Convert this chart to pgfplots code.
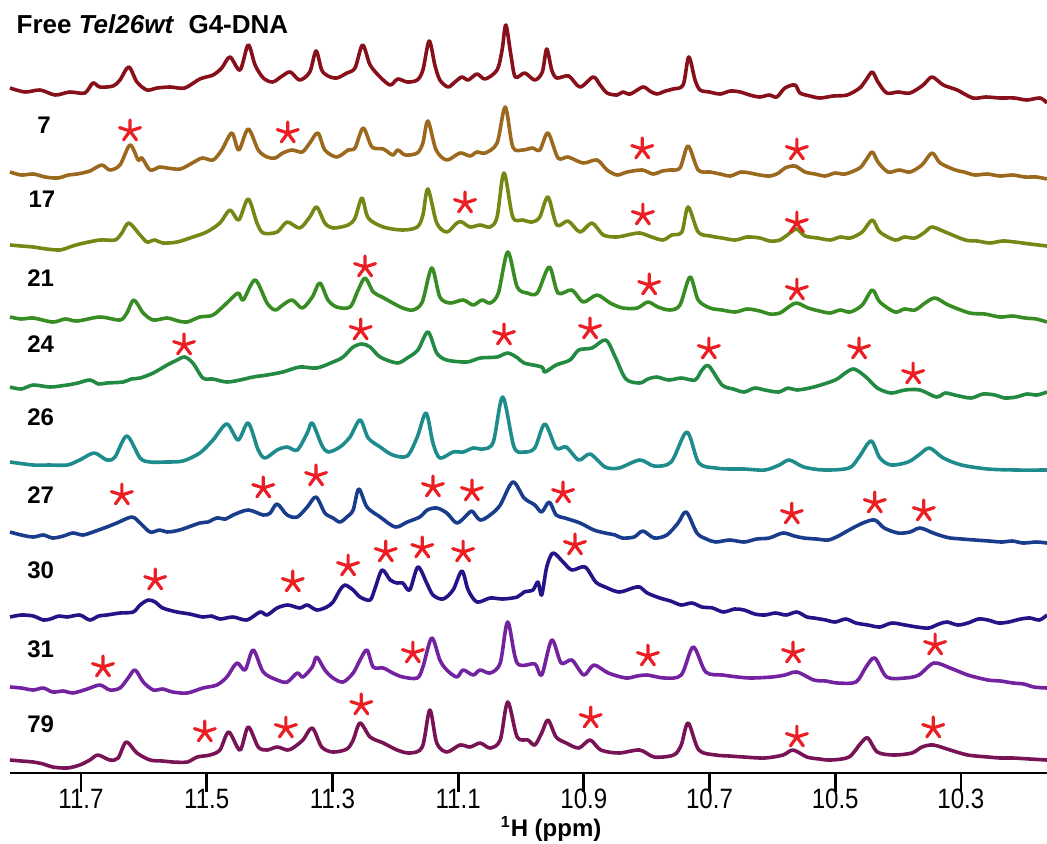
\documentclass[border=0pt]{standalone}
\usepackage{pgfplots}
\pgfplotsset{compat=1.18}
\usepackage{fontspec}
\setmainfont{Liberation Sans}
\definecolor{cF}{RGB}{135,16,26}
\definecolor{cA}{RGB}{155,105,30}
\definecolor{cB}{RGB}{118,135,22}
\definecolor{cC}{RGB}{55,140,35}
\definecolor{cD}{RGB}{35,138,65}
\definecolor{cE}{RGB}{30,140,140}
\definecolor{cG}{RGB}{25,60,140}
\definecolor{cH}{RGB}{35,20,135}
\definecolor{cI}{RGB}{115,35,160}
\definecolor{cJ}{RGB}{120,20,85}
\definecolor{cS}{RGB}{235,30,35}
\pgfdeclareplotmark{ast}{%
  \pgfpathmoveto{\pgfqpoint{0pt}{0pt}}\pgfpathlineto{\pgfqpointpolar{90}{\pgfplotmarksize}}%
  \pgfpathmoveto{\pgfqpoint{0pt}{0pt}}\pgfpathlineto{\pgfqpointpolar{162}{\pgfplotmarksize}}%
  \pgfpathmoveto{\pgfqpoint{0pt}{0pt}}\pgfpathlineto{\pgfqpointpolar{234}{\pgfplotmarksize}}%
  \pgfpathmoveto{\pgfqpoint{0pt}{0pt}}\pgfpathlineto{\pgfqpointpolar{306}{\pgfplotmarksize}}%
  \pgfpathmoveto{\pgfqpoint{0pt}{0pt}}\pgfpathlineto{\pgfqpointpolar{18}{\pgfplotmarksize}}%
  \pgfusepathqstroke}
\begin{document}
\begin{tikzpicture}
\begin{axis}[
  scale only axis, width=518.5pt, height=386.5pt,
  xmin=10.163, xmax=11.813, ymin=0, ymax=773,
  x dir=reverse, clip=false,
  axis x line=bottom, axis y line=none,
  axis line style={-, line width=1.4pt, black},
  xtick={10.3,10.5,10.7,10.9,11.1,11.3,11.5,11.7},
  tick align=outside, major tick length=9.5pt,
  tick style={line width=1.4pt, black},
  /pgf/number format/assume math mode=true,
  xticklabel={\scalebox{0.86}[1]{\pgfmathprintnumber[fixed,fixed zerofill,precision=1]{\tick}}},
  xticklabel style={font=\fontsize{14}{16}\selectfont, inner sep=0pt, yshift=1.5pt},
  spec/.style={line width=1.8pt, line join=round, smooth, tension=0.5},
]
% Free
\addplot[cF, spec] coordinates {(11.813,685)(11.789,681)(11.765,683)(11.741,678)(11.718,681)(11.694,680)(11.681,690)(11.670,686)(11.649,687)(11.638,693)(11.624,706)(11.611,691)(11.595,683)(11.579,685)(11.558,686)(11.535,685)(11.511,694)(11.490,698)(11.476,705)(11.463,716)(11.447,703)(11.434,728)(11.423,708)(11.410,695)(11.395,691)(11.380,697)(11.367,701)(11.352,693)(11.336,701)(11.326,722)(11.317,703)(11.307,697)(11.293,695)(11.277,700)(11.264,705)(11.252,728)(11.240,708)(11.224,696)(11.208,688)(11.196,694)(11.181,691)(11.165,693)(11.156,703)(11.146,732)(11.137,708)(11.129,693)(11.116,686)(11.105,691)(11.094,696)(11.084,693)(11.070,699)(11.057,694)(11.038,703)(11.030,723)(11.024,748)(11.016,718)(11.009,696)(10.994,700)(10.978,693)(10.966,701)(10.959,724)(10.951,703)(10.943,695)(10.924,697)(10.906,686)(10.885,696)(10.874,688)(10.863,680)(10.847,678)(10.838,681)(10.826,679)(10.806,686)(10.795,682)(10.784,679)(10.770,682)(10.758,684)(10.742,688)(10.733,716)(10.723,693)(10.715,683)(10.700,681)(10.683,679)(10.667,682)(10.651,681)(10.636,678)(10.620,676)(10.605,678)(10.593,676)(10.580,685)(10.564,688)(10.556,680)(10.540,677)(10.524,675)(10.503,677)(10.481,678)(10.461,685)(10.451,693)(10.441,701)(10.432,691)(10.418,680)(10.400,681)(10.381,680)(10.360,688)(10.346,696)(10.328,688)(10.306,683)(10.281,675)(10.260,676)(10.238,675)(10.215,675)(10.195,673)(10.174,675)(10.163,670)};
% 7
\addplot[cA, spec] coordinates {(11.813,601)(11.795,598)(11.776,599)(11.757,596)(11.737,595)(11.720,598)(11.706,599)(11.686,602)(11.667,608)(11.654,603)(11.638,608)(11.622,628)(11.609,613)(11.603,615)(11.590,603)(11.575,606)(11.563,605)(11.542,604)(11.523,610)(11.507,615)(11.490,613)(11.476,623)(11.460,640)(11.449,623)(11.434,644)(11.418,623)(11.404,616)(11.391,615)(11.379,620)(11.364,623)(11.348,621)(11.336,630)(11.323,640)(11.312,623)(11.293,616)(11.275,623)(11.264,625)(11.251,645)(11.237,626)(11.219,624)(11.204,618)(11.196,623)(11.184,618)(11.165,620)(11.156,630)(11.148,652)(11.135,623)(11.118,613)(11.097,620)(11.081,617)(11.070,621)(11.057,620)(11.038,630)(11.025,666)(11.013,626)(10.997,623)(10.982,625)(10.970,623)(10.957,640)(10.941,615)(10.925,616)(10.901,610)(10.879,613)(10.863,603)(10.847,598)(10.831,601)(10.807,603)(10.790,599)(10.775,602)(10.763,603)(10.747,605)(10.734,627)(10.718,603)(10.699,601)(10.683,599)(10.667,597)(10.650,601)(10.636,600)(10.620,598)(10.604,597)(10.590,600)(10.580,605)(10.564,607)(10.548,601)(10.532,599)(10.516,597)(10.500,600)(10.484,599)(10.461,605)(10.451,613)(10.441,621)(10.432,611)(10.416,601)(10.398,603)(10.381,601)(10.362,608)(10.346,620)(10.333,610)(10.309,603)(10.295,601)(10.278,598)(10.258,599)(10.238,597)(10.218,598)(10.198,596)(10.180,596)(10.163,594)};
% 17
\addplot[cB, spec] coordinates {(11.813,528)(11.795,527)(11.776,526)(11.755,524)(11.733,523)(11.718,526)(11.702,529)(11.670,533)(11.646,533)(11.635,540)(11.624,550)(11.606,538)(11.595,531)(11.583,533)(11.570,530)(11.547,531)(11.522,536)(11.500,541)(11.479,550)(11.463,563)(11.449,553)(11.434,574)(11.420,550)(11.410,540)(11.388,541)(11.372,551)(11.352,545)(11.336,556)(11.325,566)(11.312,550)(11.299,545)(11.275,548)(11.264,555)(11.253,575)(11.243,555)(11.219,546)(11.188,543)(11.165,546)(11.156,558)(11.148,584)(11.134,550)(11.118,541)(11.102,550)(11.094,551)(11.081,546)(11.065,548)(11.049,546)(11.038,556)(11.027,600)(11.013,556)(10.997,553)(10.982,551)(10.970,556)(10.957,576)(10.943,548)(10.925,552)(10.906,541)(10.887,550)(10.869,538)(10.847,536)(10.831,538)(10.811,540)(10.792,536)(10.774,533)(10.760,538)(10.744,541)(10.734,566)(10.718,541)(10.699,537)(10.680,535)(10.659,533)(10.640,536)(10.620,535)(10.604,532)(10.588,533)(10.572,540)(10.561,544)(10.548,537)(10.528,535)(10.508,533)(10.492,536)(10.476,535)(10.457,541)(10.441,553)(10.429,541)(10.405,533)(10.390,536)(10.373,535)(10.357,541)(10.346,546)(10.325,541)(10.293,533)(10.274,532)(10.254,530)(10.234,532)(10.214,531)(10.190,529)(10.163,527)};
% 21
\addplot[cC, spec] coordinates {(11.813,456)(11.795,454)(11.776,455)(11.745,451)(11.725,454)(11.706,452)(11.670,456)(11.638,453)(11.627,460)(11.616,473)(11.601,460)(11.585,453)(11.563,455)(11.545,452)(11.531,451)(11.511,456)(11.490,458)(11.468,470)(11.450,480)(11.442,473)(11.423,493)(11.404,470)(11.391,463)(11.379,468)(11.364,473)(11.348,465)(11.332,476)(11.320,490)(11.307,473)(11.293,466)(11.272,466)(11.259,483)(11.248,495)(11.235,481)(11.221,476)(11.204,470)(11.188,465)(11.172,463)(11.157,471)(11.142,505)(11.129,476)(11.113,470)(11.092,473)(11.076,468)(11.062,473)(11.049,470)(11.036,480)(11.021,521)(11.006,486)(10.990,480)(10.974,480)(10.955,506)(10.941,480)(10.919,483)(10.901,471)(10.879,478)(10.858,470)(10.838,465)(10.815,465)(10.798,471)(10.782,466)(10.763,463)(10.747,468)(10.731,496)(10.718,473)(10.699,465)(10.680,463)(10.659,461)(10.640,464)(10.620,462)(10.604,459)(10.588,460)(10.572,467)(10.561,470)(10.543,465)(10.525,462)(10.508,460)(10.492,463)(10.476,461)(10.457,468)(10.441,483)(10.429,471)(10.405,461)(10.390,464)(10.373,463)(10.357,470)(10.341,475)(10.320,468)(10.286,460)(10.262,459)(10.238,456)(10.218,457)(10.198,455)(10.180,454)(10.163,451)};
% 24
\addplot[cD, spec] coordinates {(11.813,386)(11.795,384)(11.776,388)(11.749,386)(11.722,388)(11.705,390)(11.686,393)(11.672,389)(11.659,390)(11.633,391)(11.620,394)(11.606,395)(11.585,400)(11.563,408)(11.547,413)(11.535,416)(11.522,410)(11.506,395)(11.490,394)(11.468,391)(11.447,393)(11.426,396)(11.404,398)(11.379,401)(11.352,406)(11.325,405)(11.299,411)(11.283,416)(11.267,426)(11.253,429)(11.240,426)(11.224,416)(11.197,410)(11.181,415)(11.164,423)(11.148,441)(11.134,420)(11.118,413)(11.086,411)(11.065,415)(11.038,416)(11.021,420)(11.005,415)(10.995,410)(10.967,406)(10.962,401)(10.944,408)(10.922,413)(10.908,423)(10.887,425)(10.865,433)(10.850,416)(10.833,394)(10.811,390)(10.798,394)(10.784,396)(10.765,393)(10.745,395)(10.723,393)(10.712,403)(10.701,407)(10.680,388)(10.662,384)(10.645,381)(10.628,385)(10.612,383)(10.590,381)(10.575,385)(10.561,383)(10.534,386)(10.500,393)(10.484,400)(10.470,404)(10.451,396)(10.433,385)(10.411,380)(10.389,383)(10.365,383)(10.339,376)(10.325,380)(10.310,378)(10.284,375)(10.265,379)(10.246,378)(10.230,375)(10.212,376)(10.195,379)(10.179,378)(10.163,381)};
% 26
\addplot[cE, spec] coordinates {(11.813,311)(11.776,308)(11.750,308)(11.722,308)(11.702,313)(11.679,320)(11.659,313)(11.646,316)(11.627,337)(11.606,315)(11.590,311)(11.565,311)(11.538,312)(11.511,320)(11.490,333)(11.468,349)(11.450,333)(11.434,350)(11.418,323)(11.407,315)(11.388,323)(11.372,326)(11.356,323)(11.340,340)(11.332,350)(11.317,328)(11.307,321)(11.288,326)(11.272,336)(11.256,353)(11.243,335)(11.224,326)(11.204,318)(11.181,317)(11.165,336)(11.151,360)(11.140,330)(11.129,315)(11.108,321)(11.092,321)(11.076,325)(11.060,324)(11.044,331)(11.029,376)(11.011,326)(10.995,321)(10.978,325)(10.962,349)(10.944,325)(10.928,326)(10.908,313)(10.890,319)(10.866,306)(10.844,305)(10.811,313)(10.788,307)(10.761,311)(10.736,341)(10.717,310)(10.690,305)(10.668,304)(10.645,304)(10.612,303)(10.589,308)(10.573,313)(10.550,306)(10.518,303)(10.478,305)(10.462,316)(10.443,332)(10.429,315)(10.411,308)(10.384,311)(10.367,318)(10.350,325)(10.328,315)(10.299,308)(10.257,304)(10.212,303)(10.163,303)};
% 27
\addplot[cG, spec] coordinates {(11.813,241)(11.795,238)(11.776,236)(11.760,238)(11.745,235)(11.728,237)(11.713,240)(11.697,238)(11.681,241)(11.659,246)(11.643,250)(11.619,256)(11.606,250)(11.590,241)(11.575,243)(11.563,241)(11.550,242)(11.538,244)(11.511,250)(11.498,251)(11.484,255)(11.470,254)(11.458,258)(11.434,263)(11.410,258)(11.399,260)(11.388,269)(11.372,258)(11.356,256)(11.340,266)(11.326,276)(11.312,260)(11.299,255)(11.288,251)(11.277,256)(11.267,263)(11.258,284)(11.245,266)(11.224,256)(11.200,246)(11.181,251)(11.161,256)(11.149,263)(11.134,265)(11.118,260)(11.102,250)(11.086,258)(11.078,262)(11.065,253)(11.049,258)(11.033,268)(11.013,291)(10.995,275)(10.978,268)(10.967,261)(10.955,271)(10.944,258)(10.930,255)(10.906,250)(10.884,243)(10.866,240)(10.850,238)(10.839,235)(10.820,236)(10.806,242)(10.788,235)(10.768,238)(10.750,250)(10.737,261)(10.720,240)(10.705,234)(10.690,231)(10.668,233)(10.645,231)(10.625,234)(10.605,235)(10.583,240)(10.565,237)(10.550,235)(10.530,234)(10.511,233)(10.495,237)(10.478,243)(10.456,250)(10.437,253)(10.422,245)(10.400,240)(10.381,241)(10.365,245)(10.344,240)(10.330,237)(10.317,235)(10.298,234)(10.278,233)(10.255,232)(10.235,231)(10.218,232)(10.201,230)(10.180,231)(10.163,230)};
% 30
\addplot[cH, spec] coordinates {(11.813,156)(11.795,158)(11.776,157)(11.760,153)(11.749,154)(11.735,157)(11.722,156)(11.702,158)(11.686,153)(11.672,157)(11.659,158)(11.638,160)(11.617,161)(11.606,168)(11.593,173)(11.582,171)(11.570,165)(11.547,161)(11.527,159)(11.506,156)(11.492,157)(11.479,154)(11.458,156)(11.436,153)(11.415,161)(11.404,158)(11.388,165)(11.371,168)(11.352,165)(11.340,168)(11.325,163)(11.309,166)(11.299,171)(11.288,183)(11.280,188)(11.267,183)(11.256,176)(11.240,173)(11.232,185)(11.221,203)(11.208,193)(11.197,190)(11.188,190)(11.177,183)(11.164,206)(11.150,190)(11.140,178)(11.124,174)(11.108,183)(11.094,202)(11.084,183)(11.070,171)(11.049,175)(11.029,174)(11.006,176)(10.995,181)(10.981,183)(10.973,191)(10.967,178)(10.959,206)(10.949,220)(10.933,211)(10.919,203)(10.898,206)(10.881,191)(10.866,186)(10.844,181)(10.822,185)(10.811,186)(10.799,180)(10.779,175)(10.762,172)(10.745,168)(10.728,170)(10.712,166)(10.695,165)(10.678,161)(10.660,164)(10.645,163)(10.628,159)(10.612,158)(10.595,160)(10.578,158)(10.561,161)(10.545,156)(10.534,155)(10.515,153)(10.500,151)(10.483,154)(10.467,150)(10.448,148)(10.429,146)(10.410,150)(10.389,148)(10.370,146)(10.351,145)(10.335,149)(10.322,151)(10.305,148)(10.289,150)(10.272,154)(10.257,153)(10.240,150)(10.224,151)(10.205,154)(10.190,155)(10.175,153)(10.163,158)};
% 31
\addplot[cI, spec] coordinates {(11.813,86)(11.795,85)(11.776,83)(11.760,85)(11.745,81)(11.728,82)(11.713,80)(11.690,84)(11.670,88)(11.654,83)(11.638,85)(11.625,95)(11.614,103)(11.601,91)(11.585,83)(11.570,84)(11.554,81)(11.531,80)(11.506,85)(11.484,88)(11.468,96)(11.452,110)(11.439,103)(11.426,123)(11.410,101)(11.388,93)(11.372,91)(11.356,100)(11.347,96)(11.332,106)(11.325,116)(11.312,103)(11.299,95)(11.283,91)(11.267,100)(11.256,113)(11.245,123)(11.235,106)(11.219,105)(11.204,100)(11.188,96)(11.165,95)(11.156,106)(11.142,135)(11.129,113)(11.118,103)(11.102,96)(11.092,103)(11.076,98)(11.065,103)(11.049,100)(11.033,110)(11.021,151)(11.006,110)(10.978,109)(10.967,98)(10.951,133)(10.936,110)(10.919,113)(10.900,98)(10.884,108)(10.861,100)(10.833,95)(10.815,97)(10.799,98)(10.772,95)(10.745,98)(10.726,126)(10.706,101)(10.679,98)(10.655,96)(10.634,95)(10.601,96)(10.580,98)(10.561,101)(10.534,93)(10.515,92)(10.496,90)(10.467,91)(10.451,106)(10.437,115)(10.418,96)(10.389,95)(10.367,98)(10.343,110)(10.317,105)(10.289,98)(10.257,93)(10.237,92)(10.217,90)(10.200,89)(10.184,86)(10.163,85)};
% 79
\addplot[cJ, spec] coordinates {(11.813,13)(11.795,12)(11.776,11)(11.760,9)(11.745,6)(11.722,5)(11.702,8)(11.686,13)(11.673,18)(11.654,13)(11.641,15)(11.628,31)(11.611,20)(11.590,13)(11.570,12)(11.554,11)(11.531,11)(11.515,16)(11.495,18)(11.479,23)(11.465,41)(11.447,23)(11.434,46)(11.418,26)(11.404,23)(11.388,26)(11.372,23)(11.363,25)(11.347,33)(11.332,45)(11.317,26)(11.299,21)(11.277,24)(11.267,33)(11.256,50)(11.240,36)(11.219,30)(11.197,23)(11.177,20)(11.157,26)(11.145,63)(11.134,30)(11.118,21)(11.097,28)(11.081,26)(11.065,30)(11.049,25)(11.033,33)(11.021,71)(11.006,36)(10.989,33)(10.978,28)(10.967,40)(10.957,53)(10.944,36)(10.928,30)(10.908,25)(10.890,33)(10.873,23)(10.844,20)(10.811,23)(10.788,16)(10.757,18)(10.745,28)(10.734,50)(10.717,23)(10.690,18)(10.668,17)(10.645,16)(10.612,15)(10.583,18)(10.567,23)(10.545,16)(10.525,14)(10.507,13)(10.478,16)(10.459,30)(10.448,35)(10.433,21)(10.407,18)(10.378,20)(10.362,26)(10.344,28)(10.317,23)(10.289,18)(10.257,16)(10.237,15)(10.217,15)(10.190,14)(10.163,13)};
% asterisks
\addplot[only marks, mark=ast, mark size=5.5pt, cS, mark options={solid, line width=1.6pt, line cap=round}] coordinates {
(11.622,642)(11.371,640)(10.807,624)(10.561,623)
(11.089,570)(10.806,558)(10.561,550)
(11.248,506)(10.796,488)(10.561,483)
(11.536,428)(11.255,443)(11.027,438)(10.890,444)(10.701,424)(10.462,424)(10.376,399)
(11.635,278)(11.410,285)(11.326,297)(11.140,286)(11.078,282)(10.933,280)(10.569,259)(10.437,270)(10.359,262)
(11.582,193)(11.363,191)(11.275,207)(11.215,221)(11.157,225)(11.092,221)(10.914,228)
(11.665,106)(11.172,120)(10.798,117)(10.567,120)(10.341,128)
(11.503,41)(11.374,45)(11.254,68)(10.889,55)(10.561,36)(10.344,45)};
% labels
\node[anchor=base west, inner sep=0pt, font=\bfseries\fontsize{13}{13}\selectfont] at (axis cs:11.803,740) {Free \textit{Tel26wt}\ \ G4-DNA};
\begin{scope}[every node/.style={anchor=base west, inner sep=0pt, font=\bfseries\fontsize{12}{12}\selectfont}]
\node at (axis cs:11.770,640) {7};
\node at (axis cs:11.784,566) {17};
\node at (axis cs:11.786,487) {21};
\node at (axis cs:11.786,421) {24};
\node at (axis cs:11.786,348) {26};
\node at (axis cs:11.786,270) {27};
\node at (axis cs:11.786,195) {30};
\node at (axis cs:11.786,116) {31};
\node at (axis cs:11.786,41) {79};
\end{scope}
\node[anchor=base, inner sep=0pt, font=\bfseries\fontsize{12}{12}\selectfont] at (axis cs:10.952,-63) {\textsuperscript{1}H (ppm)};
\end{axis}
\pgfresetboundingbox
\path ([shift={(-5pt,-35pt)}]current axis.south west) rectangle (current axis.north east);
\end{tikzpicture}
\end{document}
